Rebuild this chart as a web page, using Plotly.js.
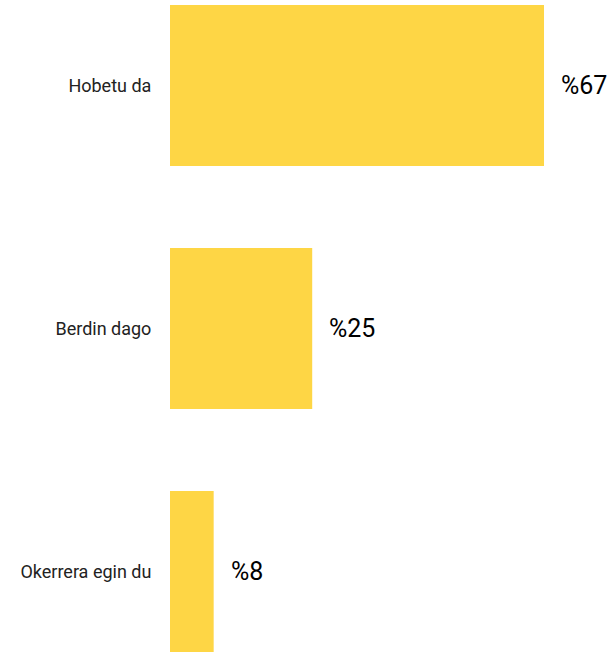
<!DOCTYPE html>
<html>
<head>
<meta charset="utf-8">
<script src="https://cdn.plot.ly/plotly-3.0.1.min.js"></script>
<style>html,body{margin:0;padding:0;background:#fff;}#chart{width:614px;height:652px;}</style>
</head>
<body>
<div id="chart"></div>
<script>
const categories = ["Okerrera egin du", "Berdin dago", "Hobetu da"];
const values = [7.8, 25.4, 66.8];
const valueLabels = ["%8", "%25", "%67"];

const trace = {
  type: 'bar',
  orientation: 'h',
  x: values,
  y: categories,
  marker: {color: '#FED645'},
  hoverinfo: 'none'
};

const annotations = values.map((v, i) => ({
  x: v, y: categories[i], xref: 'x', yref: 'y',
  text: valueLabels[i], showarrow: false,
  xanchor: 'left', yanchor: 'middle', xshift: 15,
  font: {family: 'Roboto', size: 25, color: '#000'}
}));

const layout = {
  width: 614, height: 652,
  margin: {l: 170, r: 0, t: 0, b: 0},
  paper_bgcolor: '#fff', plot_bgcolor: '#fff',
  bargap: 0.337,
  showlegend: false,
  xaxis: {range: [0, 79.3], visible: false, fixedrange: true},
  yaxis: {
    range: [-0.331, 2.352],
    showgrid: false, zeroline: false, showline: false,
    ticks: 'outside', ticklen: 14, tickcolor: 'rgba(0,0,0,0)',
    tickfont: {family: 'Roboto', size: 18, color: '#222'}
  },
  annotations: annotations,
  font: {family: 'Roboto'}
};

Plotly.newPlot('chart', [trace], layout, {displayModeBar: false, staticPlot: true});
</script>
</body>
</html>
